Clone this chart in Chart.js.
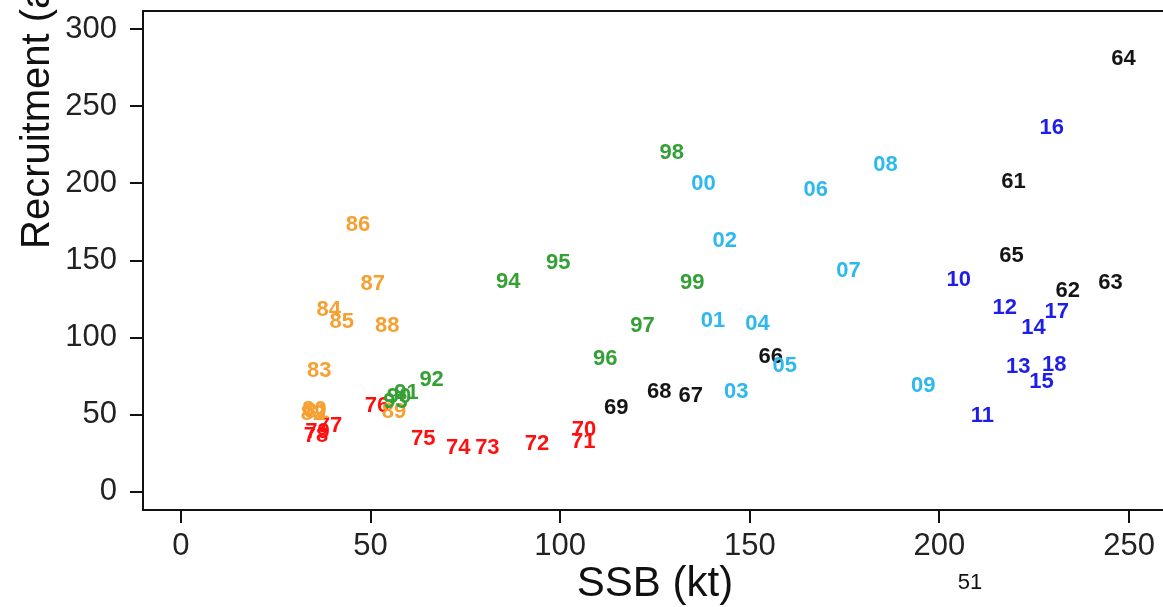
<!DOCTYPE html>
<html>
<head>
<meta charset="utf-8">
<script src="https://cdn.jsdelivr.net/npm/chart.js@4.4.1/dist/chart.umd.min.js"></script>
<style>
  html, body { margin: 0; padding: 0; background: #fff; overflow: hidden; }
  #wrap { width: 1163px; height: 607px; overflow: hidden; position: relative; }
  canvas { display: block; }
</style>
</head>
<body>
<div id="wrap"><canvas id="c" width="1175" height="607"></canvas></div>
<script>
// ---- data ----
const yearLabels = ['61','62','63','64','65','66','67','68','69',
  '70','71','72','73','74','75','76','77','78','79',
  '80','81','82','83','84','85','86','87','88','89',
  '90','91','92','93','94','95','96','97','98','99',
  '00','01','02','03','04','05','06','07','08','09',
  '10','11','12','13','14','15','16','17','18'];
const ssbValues = [219.5,233.8,245.1,248.5,219.0,155.5,134.4,126.1,114.8,
  106.3,106.1,93.9,80.8,73.1,63.9,51.7,39.3,35.6,36.0,
  35.2,35.8,34.8,36.5,39.0,42.4,46.7,50.6,54.4,56.2,
  57.5,59.5,66.1,56.6,86.3,99.5,111.9,121.7,129.4,134.8,
  137.8,140.3,143.4,146.4,152.0,159.2,167.4,176.0,185.8,195.7,
  205.1,211.3,217.2,220.8,224.8,226.9,229.6,230.9,230.3];
const recruitValues = [201.6,130.9,136.1,281.3,153.6,88.0,62.8,65.2,54.8,
  40.8,33.1,31.5,29.2,29.2,34.5,56.4,43.5,37.0,39.5,
  53.5,52.0,51.0,79.1,118.8,110.6,173.7,135.6,108.2,52.0,
  62.2,64.5,73.2,58.5,136.9,148.8,86.6,108.2,220.5,135.9,
  200.2,111.7,163.6,65.5,109.5,82.5,196.6,143.9,212.8,69.0,
  138.0,49.6,119.6,81.7,106.6,71.6,236.6,117.3,83.0];
const decadeNames = ['1960s','1970s','1980s','1990s','2000s','2010s'];
const decadeColors = ['#151515','#FF1010','#F5A030','#35A035','#2DB8EE','#1E1EEA'];
const xTickValues = [0,50,100,150,200,250];
const yTickValues = [0,50,100,150,200,250,300];
const xTitle = 'SSB (kt)';
const yTitle = 'Recruitment (a';
const pageNumber = '51';

// group points by decade
function decadeIndex(lbl) {
  const n = parseInt(lbl, 10);
  if (n >= 60) return Math.floor((n - 60) / 10);
  return 4 + Math.floor(n / 10);
}
const datasets = decadeNames.map((name, i) => ({
  label: name, data: [], color: decadeColors[i],
  pointRadius: 0, pointHoverRadius: 0, showLine: false
}));
yearLabels.forEach((lbl, k) => {
  datasets[decadeIndex(lbl)].data.push({ x: ssbValues[k], y: recruitValues[k], t: lbl });
});

const FONT = "'Liberation Sans', Arial, Helvetica, sans-serif";

const labelPlugin = {
  id: 'yearText',
  afterDatasetsDraw(chart) {
    const ctx = chart.ctx;
    ctx.save();
    ctx.font = 'bold 22px ' + FONT;
    ctx.textAlign = 'center';
    ctx.textBaseline = 'middle';
    chart.data.datasets.forEach((ds, di) => {
      const meta = chart.getDatasetMeta(di);
      ctx.fillStyle = ds.color;
      meta.data.forEach((el, j) => {
        ctx.fillText(ds.data[j].t, el.x, el.y + 1);
      });
    });
    ctx.restore();
  },
  afterDraw(chart) {
    const ctx = chart.ctx;
    const a = chart.chartArea;
    ctx.save();
    ctx.strokeStyle = '#111';
    ctx.lineWidth = 2;
    ctx.beginPath();
    ctx.moveTo(a.left - 1, a.top);
    ctx.lineTo(a.right, a.top);
    ctx.lineTo(a.right, a.bottom);
    ctx.stroke();
    // axis titles
    ctx.fillStyle = '#111';
    ctx.font = '42px ' + FONT;
    ctx.textAlign = 'center';
    ctx.textBaseline = 'alphabetic';
    ctx.fillText(xTitle, (a.left + a.right) / 2, 596);
    ctx.save();
    ctx.font = '40px ' + FONT;
    ctx.translate(49, 249);
    ctx.rotate(-Math.PI / 2);
    ctx.textAlign = 'left';
    ctx.fillText(yTitle, 0, 0);
    ctx.restore();
    ctx.font = "22px 'Liberation Sans Narrow', " + FONT;
    ctx.textAlign = 'center';
    ctx.fillText(pageNumber, 970, 589);
    ctx.restore();
  }
};

new Chart(document.getElementById('c'), {
  type: 'scatter',
  data: { datasets },
  options: {
    responsive: false,
    animation: false,
    devicePixelRatio: 1,
    layout: { padding: { top: 11, right: 8, left: 0, bottom: 0 } },
    plugins: { legend: { display: false }, tooltip: { enabled: false } },
    scales: {
      x: {
        type: 'linear', min: -10, max: 260,
        afterBuildTicks: s => { s.ticks = xTickValues.map(v => ({ value: v })); },
        afterFit: s => { s.height = 97; s.paddingLeft = 0; s.paddingRight = 0; s.paddingTop = 0; s.paddingBottom = 0; },
        grid: { drawOnChartArea: false, drawTicks: true, tickLength: 13, color: '#111', lineWidth: 2 },
        border: { display: true, color: '#111', width: 2 },
        ticks: { color: '#222', font: { family: FONT, size: 31 }, padding: 5, maxRotation: 0, autoSkip: false }
      },
      y: {
        type: 'linear', min: -12, max: 312,
        afterBuildTicks: s => { s.ticks = yTickValues.map(v => ({ value: v })); },
        afterFit: s => { s.width = 143; s.paddingTop = 0; s.paddingBottom = 0; s.paddingLeft = 0; s.paddingRight = 0; },
        grid: { drawOnChartArea: false, drawTicks: true, tickLength: 13, color: '#111', lineWidth: 2 },
        border: { display: true, color: '#111', width: 2 },
        ticks: { color: '#222', font: { family: FONT, size: 31 }, padding: 13, autoSkip: false }
      }
    }
  },
  plugins: [labelPlugin]
});
</script>
</body>
</html>
